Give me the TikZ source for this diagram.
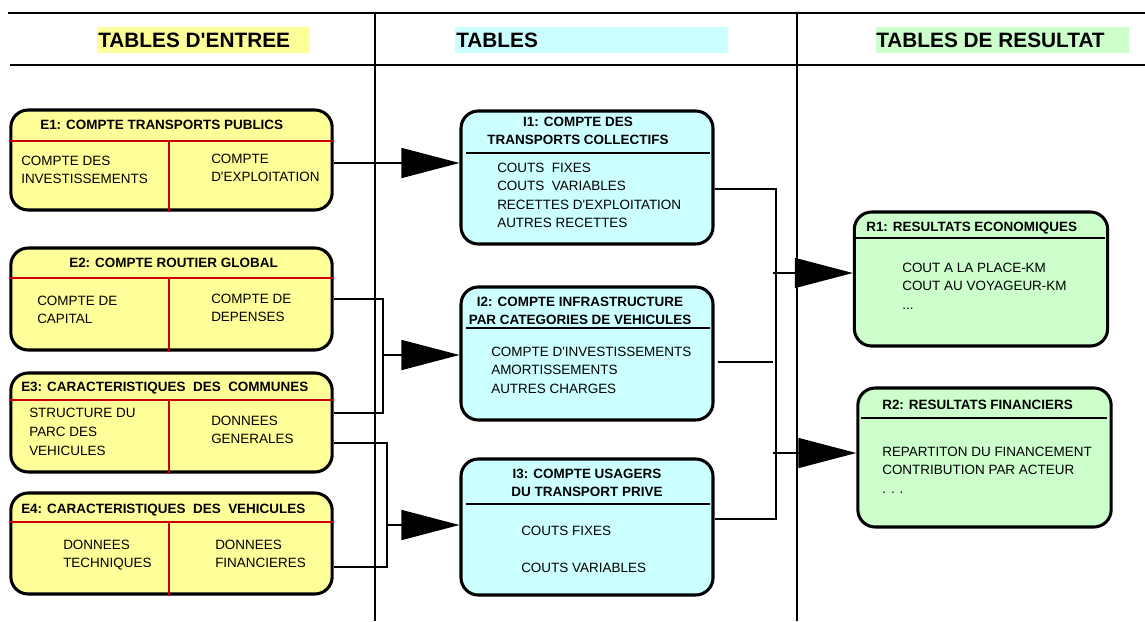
\documentclass[tikz,border=0pt]{standalone}
\usepackage{fontspec}
\setmainfont{Liberation Sans}
\usetikzlibrary{arrows.meta,calc}
\definecolor{ey}{HTML}{FFFF99}
\definecolor{ic}{HTML}{CCFFFF}
\definecolor{rg}{HTML}{CCFFCC}
\definecolor{rl}{HTML}{CC0000}
\newcommand\bodyfnt{\fontsize{10.1}{13.7}\selectfont}
\newcommand\headfnt{\fontsize{15.6}{18}\selectfont\bfseries}
\newcommand\aq{\textquotesingle}
\begin{document}
\begin{tikzpicture}[x=0.75pt,y=-0.75pt,
  box/.style={draw=black, line width=2.3pt, rounded corners=13pt, inner sep=0},
  ebox/.style={box, fill=ey, minimum width=241pt},
  ibox/.style={box, fill=ic, minimum width=189pt},
  rbox/.style={box, fill=rg, minimum width=190pt},
  txt/.style={font=\bodyfnt, inner sep=0, anchor=north west, align=left},
  ttl/.style={font=\bodyfnt\bfseries, inner sep=0, anchor=north west, align=left},
  cttl/.style={font=\bodyfnt\bfseries, inner sep=0, anchor=north, align=center},
  hdr/.style={font=\headfnt, inner sep=0, anchor=west},
  frame/.style={line width=1.5pt, black},
  redline/.style={line width=1.6pt, rl},
  sepline/.style={line width=1.5pt, black},
  conn/.style={line width=1.1pt, black},
  arr/.style={-{Triangle[length=43.5pt,width=22.5pt]}}
]
\useasboundingbox (0,0) rectangle (1145,621);

% header highlights and titles
\fill[ey] (97,27) rectangle (310,53);
\fill[ic] (455,27) rectangle (728,53);
\fill[rg] (876,27) rectangle (1129,53);
\node[hdr] (h1) at (98,40) {TABLES D\aq ENTREE};
\node[hdr] (h2) at (456,40) {TABLES};
\node[hdr] (h3) at (876,40) {TABLES DE RESULTAT};

% frame lines
\draw[frame] (8,13) -- (1145,13);
\draw[frame] (10,65) -- (1145,65);
\draw[frame] (375,13) -- (375,621);
\draw[frame] (797,13) -- (797,621);

% E boxes
\node[ebox, minimum height=75pt] (E1) at (171.5,160) {};
\node[ebox, minimum height=76.5pt] (E2) at (171.5,299) {};
\node[ebox, minimum height=74.25pt] (E3) at (171.5,422.5) {};
\node[ebox, minimum height=75.75pt] (E4) at (171.5,543.5) {};

\draw[redline] (E1.west |- 0,141) -- (E1.east |- 0,141);
\draw[redline] (169,141) -- (169,0 |- E1.south);
\draw[redline] (E2.west |- 0,278) -- (E2.east |- 0,278);
\draw[redline] (169,278) -- (169,0 |- E2.south);
\draw[redline] (E3.west |- 0,400) -- (E3.east |- 0,400);
\draw[redline] (169,400) -- (169,0 |- E3.south);
\draw[redline] (E4.west |- 0,522) -- (E4.east |- 0,522);
\draw[redline] (169,522) -- (169,0 |- E4.south);

\node[ttl] (e1t) at (40,120) {E1: COMPTE TRANSPORTS PUBLICS};
\node[txt] (e1a) at (21,156) {COMPTE DES\\INVESTISSEMENTS};
\node[txt] (e1b) at (211,154) {COMPTE\\D\aq EXPLOITATION};

\node[ttl] (e2t) at (69,258) {E2: COMPTE ROUTIER GLOBAL};
\node[txt] (e2a) at (37,296) {COMPTE DE\\CAPITAL};
\node[txt] (e2b) at (211,294) {COMPTE DE\\DEPENSES};

\node[ttl] (e3t) at (21,382) {E3: CARACTERISTIQUES \ DES \ COMMUNES};
\node[txt, font=\fontsize{10.1}{14.3}\selectfont] (e3a) at (29,408) {STRUCTURE DU\\PARC DES\\VEHICULES};
\node[txt] (e3b) at (211,416) {DONNEES\\GENERALES};

\node[ttl] (e4t) at (21,504) {E4: CARACTERISTIQUES \ DES \ VEHICULES};
\node[txt] (e4a) at (63,540) {DONNEES\\TECHNIQUES};
\node[txt] (e4b) at (215,540) {DONNEES\\FINANCIERES};

% I boxes
\node[ibox, minimum height=99.75pt] (I1) at (587,177.5) {};
\node[ibox, minimum height=99.75pt] (I2) at (587,353.5) {};
\node[ibox, minimum height=102pt] (I3) at (587,527) {};

\draw[sepline] (466,153) -- (710,153);
\draw[sepline] (466,328) -- (710,328);
\draw[sepline] (466,504) -- (710,504);

\node[cttl] (i1t) at (578,117) {I1: COMPTE DES\\TRANSPORTS COLLECTIFS};
\node[txt] (i1a) at (497,163) {COUTS \ FIXES\\COUTS \ VARIABLES\\RECETTES D\aq EXPLOITATION\\AUTRES RECETTES};

\node[cttl] (i2t) at (580,297) {I2: COMPTE INFRASTRUCTURE\\PAR CATEGORIES DE VEHICULES};
\node[txt] (i2a) at (491,347) {COMPTE D\aq INVESTISSEMENTS\\AMORTISSEMENTS\\AUTRES CHARGES};

\node[cttl] (i3t) at (587,469) {I3: COMPTE USAGERS\\DU TRANSPORT PRIVE};
\node[txt] (i3a) at (521,526) {COUTS FIXES\\[13.9pt]COUTS VARIABLES};

% R boxes
\node[rbox, minimum height=100.5pt] (R1) at (981,279) {};
\node[rbox, minimum height=104.25pt] (R2) at (984.5,457.5) {};

\draw[sepline] (856,238) -- (1105,238);
\draw[sepline] (861,418) -- (1107,418);

\node[ttl] (r1t) at (866,222) {R1: RESULTATS ECONOMIQUES};
\node[txt] (r1a) at (902,263) {COUT A LA PLACE-KM\\COUT AU VOYAGEUR-KM\\...};

\node[ttl] (r2t) at (882,400) {R2: RESULTATS FINANCIERS};
\node[txt] (r2a) at (882,447) {REPARTITON DU FINANCEMENT\\CONTRIBUTION PAR ACTEUR\\. . .};

% left connectors
\coordinate (brA) at (383,355);
\coordinate (brB) at (387,525);
\draw[conn, arr] ($(E1.east)+(0,3)$) -- ($(E1.east -| I1.west)+(0,3)$);
\draw[conn] (E2.east) -| (brA) |- ($(E3.east)+(0,-9.5)$);
\draw[conn, arr] (brA) -- (brA -| I2.west);
\draw[conn] ($(E3.east)+(0,20.5)$) -| (brB) |- ($(E4.east)+(0,23.5)$);
\draw[conn, arr] (brB) -- (brB -| I3.west);

% right connectors
\coordinate (busR) at (776,350);
\coordinate (stub) at (773,362);
\coordinate (rA) at (773,273);
\coordinate (rB) at (773,453);
\draw[conn] ($(I1.east)+(0,11.5)$) -| (busR) |- ($(I3.east)+(0,-8)$);
\draw[conn] ($(I2.east)+(3,8.5)$) -- (stub);
\draw[conn, arr] (rA) -- (rA -| R1.west);
\draw[conn, arr] (rB) -- (rB -| R2.west);
\end{tikzpicture}
\end{document}
